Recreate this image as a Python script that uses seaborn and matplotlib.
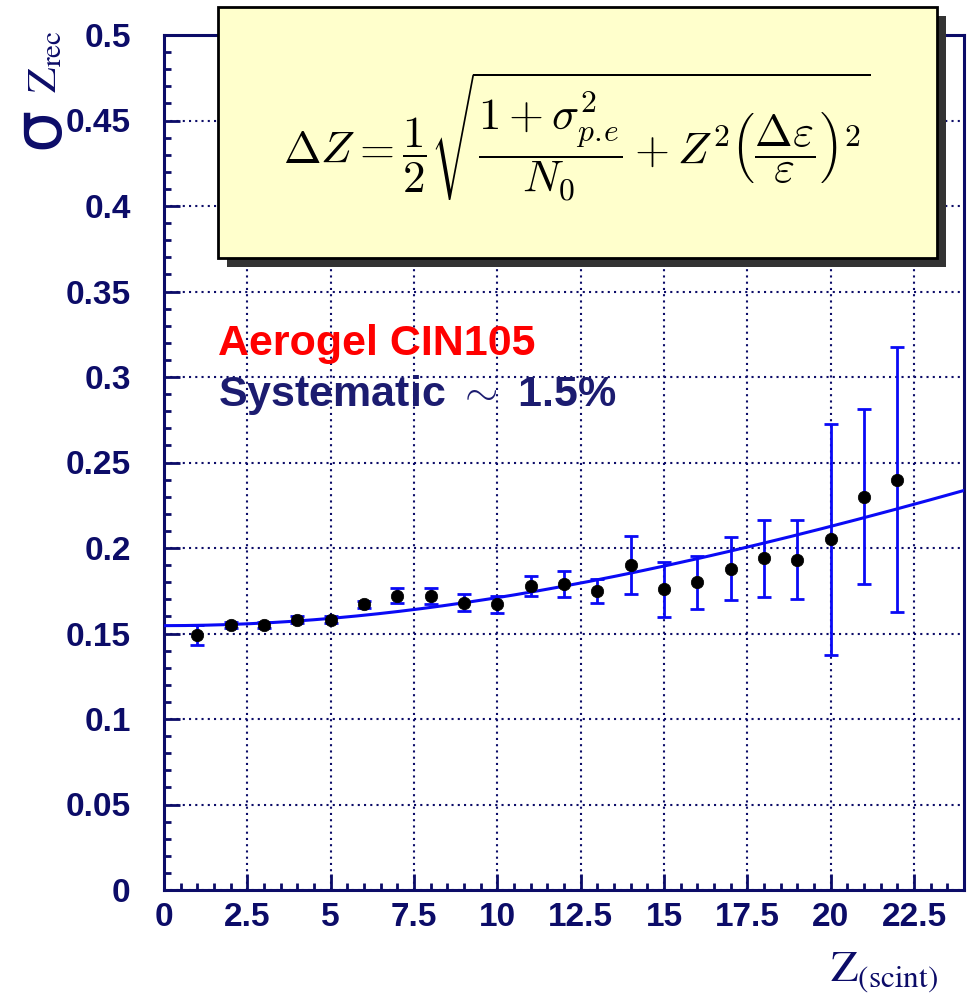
import numpy as np
import pandas as pd
import matplotlib
matplotlib.use("Agg")
import matplotlib.pyplot as plt
import seaborn as sns
from matplotlib.patches import Rectangle
from matplotlib.ticker import FixedLocator, FixedFormatter, MultipleLocator

# Charge resolution of the aerogel RICH vs. scintillator charge
z_scint = [1, 2, 3, 4, 5, 6, 7, 8, 9, 10, 11, 12, 13, 14, 15, 16, 17, 18, 19, 20, 21, 22]
sigma_rec = [0.149, 0.155, 0.155, 0.158, 0.158, 0.167, 0.172, 0.172, 0.168, 0.167, 0.178,
             0.179, 0.175, 0.190, 0.176, 0.180, 0.188, 0.194, 0.193, 0.205, 0.230, 0.240]
sigma_err = [0.006, 0.002, 0.002, 0.002, 0.002, 0.002, 0.0044, 0.0045, 0.0049, 0.0049, 0.0058,
             0.0077, 0.007, 0.0171, 0.0161, 0.0155, 0.0182, 0.0224, 0.0231, 0.0673, 0.051, 0.0776]

# Fit parameters of dZ = 1/2 sqrt((1+s_pe^2)/N0 + Z^2 (de/e)^2)
fit_photo_term = 0.0956   # (1 + sigma_pe^2) / N0
fit_rel_eps = 0.0146      # delta eps / eps
fit_z_range = (0.0, 24.0)

x_ticks = [0, 2.5, 5, 7.5, 10, 12.5, 15, 17.5, 20, 22.5]
x_tick_labels = ["0", "2.5", "5", "7.5", "10", "12.5", "15", "17.5", "20", "22.5"]
y_ticks = [0, 0.05, 0.1, 0.15, 0.2, 0.25, 0.3, 0.35, 0.4, 0.45, 0.5]
y_tick_labels = ["0", "0.05", "0.1", "0.15", "0.2", "0.25", "0.3", "0.35", "0.4", "0.45", "0.5"]

NAVY = "#0c0c68"
BLUE = "#0a0af5"

sns.set_theme(style="white")
plt.rcParams.update({
    "font.family": ["Liberation Sans", "DejaVu Sans"],
    "mathtext.fontset": "cm",
})

W, H = 968, 999
fig = plt.figure(figsize=(W / 100, H / 100), dpi=100)
fig.patch.set_facecolor("white")
ax = fig.add_axes([164 / W, 1 - 890 / H, 800 / W, 855 / H])
ax.set_facecolor("white")

df = pd.DataFrame({"z": z_scint, "sigma": sigma_rec, "err": sigma_err})
zf = np.linspace(fit_z_range[0], fit_z_range[1], 300)
fit_df = pd.DataFrame({"z": zf,
                       "sigma": 0.5 * np.sqrt(fit_photo_term + zf ** 2 * fit_rel_eps ** 2)})

ax.errorbar(df["z"], df["sigma"], yerr=df["err"], fmt="none", ecolor=BLUE,
            elinewidth=2.0, capsize=5, capthick=2.0, zorder=3)
sns.lineplot(data=fit_df, x="z", y="sigma", color=BLUE, linewidth=2.2, ax=ax, zorder=4)
sns.scatterplot(data=df, x="z", y="sigma", color="black", edgecolor="black", s=80,
                linewidth=0.5, ax=ax, zorder=5)

ax.set_xlim(0, 24)
ax.set_ylim(0, 0.5)
ax.set_xlabel("")
ax.set_ylabel("")

ax.xaxis.set_major_locator(FixedLocator(x_ticks))
ax.xaxis.set_major_formatter(FixedFormatter(x_tick_labels))
ax.yaxis.set_major_locator(FixedLocator(y_ticks))
ax.yaxis.set_major_formatter(FixedFormatter(y_tick_labels))
ax.xaxis.set_minor_locator(MultipleLocator(0.5))
ax.yaxis.set_minor_locator(MultipleLocator(0.01))

ax.tick_params(which="both", direction="in", color=NAVY, width=2.0,
               left=True, bottom=True, top=False, right=False)
ax.tick_params(which="major", length=11.5)
ax.tick_params(which="minor", length=5)
ax.tick_params(axis="y", which="major", labelsize=24, labelcolor=NAVY, pad=24)
ax.tick_params(axis="x", which="major", labelsize=24, labelcolor=NAVY, pad=9)
for lab in ax.get_xticklabels() + ax.get_yticklabels():
    lab.set_fontweight("bold")

ax.grid(True, which="major", color=NAVY, linestyle=(0, (1, 2)), linewidth=1.5)
for sp in ax.spines.values():
    sp.set_color(NAVY)
    sp.set_linewidth(2.2)
    sp.set_visible(True)

# Annotation text
ax.text(1.62, 0.313, "Aerogel CIN105", color="#ff0000", fontsize=31,
        fontweight="bold", ha="left", va="baseline", zorder=6)
ax.text(1.62, 0.283, r"Systematic $\sim$ 1.5%", color="#1c1c70", fontsize=31,
        fontweight="bold", ha="left", va="baseline", zorder=6)

# Formula box with drop shadow
def px_rect(x0, y0, x1, y1, **kw):
    return Rectangle((x0 / W, 1 - y1 / H), (x1 - x0) / W, (y1 - y0) / H,
                     transform=fig.transFigure, **kw)

fig.add_artist(px_rect(227, 16, 946, 267, facecolor="#333333", edgecolor="none", zorder=10))
fig.add_artist(px_rect(218, 7, 937, 258, facecolor="#ffffcc", edgecolor="black",
                       linewidth=2.0, zorder=11))
fig.text(577 / W, 1 - 137 / H,
         r"$\Delta Z = \dfrac{1}{2}\sqrt{\dfrac{1+\sigma^2_{p.\!e}}{N_0} + "
         r"Z^2\left(\dfrac{\Delta\varepsilon}{\varepsilon}\right)^2}$",
         fontsize=32.5, color="black", ha="center", va="center", zorder=12)

# Axis titles
fig.text(58 / W, 1 - 149 / H, "σ", fontsize=48, color=NAVY, family=["DejaVu Sans"],
         rotation=90, rotation_mode="anchor", ha="left", va="baseline")
fig.text(56 / W, 1 - 93 / H, r"$\mathrm{Z}_{\mathrm{rec}}$", fontsize=30, color=NAVY,
         math_fontfamily="stix", rotation=90, rotation_mode="anchor",
         ha="left", va="baseline")
fig.text(938 / W, 1 - 982 / H, r"$\mathrm{Z}_{\mathrm{(scint)}}$", fontsize=32,
         color=NAVY, math_fontfamily="stix", ha="right", va="baseline")

fig.savefig("out.png", dpi=100)
